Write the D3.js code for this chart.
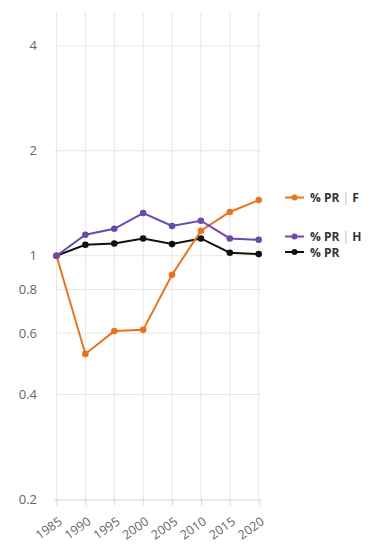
<!DOCTYPE html>
<html><head><meta charset="utf-8">
<script src="https://cdn.jsdelivr.net/npm/d3@7"></script>
<style>
html,body{margin:0;padding:0;background:#fff;}
svg{display:block;font-family:"Open Sans",sans-serif;}
</style></head>
<body><svg id="c" width="376" height="548"></svg>
<script>
const years = [1985, 1990, 1995, 2000, 2005, 2010, 2015, 2020];
const seriesNames = ["% PR | F", "% PR | H", "% PR"];
const valuesF = [1, 0.523, 0.608, 0.613, 0.882, 1.18, 1.335, 1.444];
const valuesH = [1, 1.149, 1.195, 1.326, 1.217, 1.26, 1.121, 1.111];
const valuesPR = [1, 1.075, 1.084, 1.121, 1.08, 1.121, 1.02, 1.011];
const yTicks = [0.2, 0.4, 0.6, 0.8, 1, 2, 4];
const colors = ["#e8731c", "#6b4aad", "#111111"];

const svg = d3.select("#c");
const x = d3.scaleLinear().domain([1985, 2020]).range([56.5, 258.7]);
const y = d3.scaleLog().domain([0.2, 5]).range([499.5, 12]);

// grid
const g = svg.append("g");
g.selectAll("line.v").data(years).join("line")
  .attr("x1", d => x(d)).attr("x2", d => x(d))
  .attr("y1", y(5)).attr("y2", y(0.2))
  .attr("stroke", "#e6e6e6").attr("stroke-width", 1);
g.selectAll("line.h").data(yTicks.filter(t => t !== 0.2)).join("line")
  .attr("x1", x(1985) - 2).attr("x2", x(2020) + 2)
  .attr("y1", d => y(d)).attr("y2", d => y(d))
  .attr("stroke", "#e6e6e6").attr("stroke-width", 1);

// y axis labels
const yAxis = d3.axisLeft(y).tickValues(yTicks).tickFormat(d => String(d)).tickSize(0).tickPadding(0);
const ya = svg.append("g").attr("transform", "translate(37,0)").call(yAxis);
ya.select(".domain").remove();
ya.selectAll("text").attr("fill", "#666").attr("font-size", 13).attr("font-family", "Open Sans, sans-serif");

// x axis
const xAxis = d3.axisBottom(x).tickValues(years).tickFormat(d3.format("d")).tickSize(0);
const xa = svg.append("g").attr("transform", `translate(0,${y(0.2)})`).call(xAxis);
xa.select(".domain").attr("stroke", "#ccd6eb").attr("d", `M${x(1985)-2},0.5H${x(2020)+3}`);
xa.selectAll("line").remove();
xa.selectAll(".tick").append("line").attr("y1", 0).attr("y2", 6).attr("stroke", "#ccd6eb");
xa.selectAll("text")
  .attr("fill", "#666").attr("font-size", 12.5).attr("font-family", "Open Sans, sans-serif")
  .attr("text-anchor", "end").attr("dy", null).attr("y", 0)
  .attr("transform", "translate(6,24) rotate(-35)");

// series
const allSeries = [valuesF, valuesH, valuesPR];
const line = d3.line().x((d, i) => x(years[i])).y(d => y(d));
[2, 0, 1].forEach(k => {
  const vals = allSeries[k];
  svg.append("path").datum(vals).attr("d", line)
    .attr("fill", "none").attr("stroke", colors[k]).attr("stroke-width", 2);
  svg.append("g").selectAll("circle").data(vals).join("circle")
    .attr("cx", (d, i) => x(years[i])).attr("cy", d => y(d)).attr("r", 3.3)
    .attr("fill", colors[k]);
});

// legend labels at line ends
const legendY = [197.5, 236.5, 252];
seriesNames.forEach((name, k) => {
  const ly = legendY[k];
  const lg = svg.append("g").attr("transform", `translate(0,${ly})`);
  lg.append("line").attr("x1", 285).attr("x2", 304).attr("y1", 0).attr("y2", 0)
    .attr("stroke", colors[k]).attr("stroke-width", 2);
  lg.append("circle").attr("cx", 294.5).attr("cy", 0).attr("r", 3).attr("fill", colors[k]);
  const parts = name.split("|");
  const t = lg.append("text").attr("x", 310).attr("y", 4.5)
    .attr("font-size", 12).attr("font-weight", "bold").attr("fill", "#333")
    .attr("font-family", "Open Sans, sans-serif");
  t.append("tspan").text(parts[0]);
  if (parts.length > 1) {
    t.append("tspan").attr("fill", "#bbb").attr("font-weight", "normal").text("| ");
    t.append("tspan").text(parts[1].trim());
  }
});
</script></body></html>
